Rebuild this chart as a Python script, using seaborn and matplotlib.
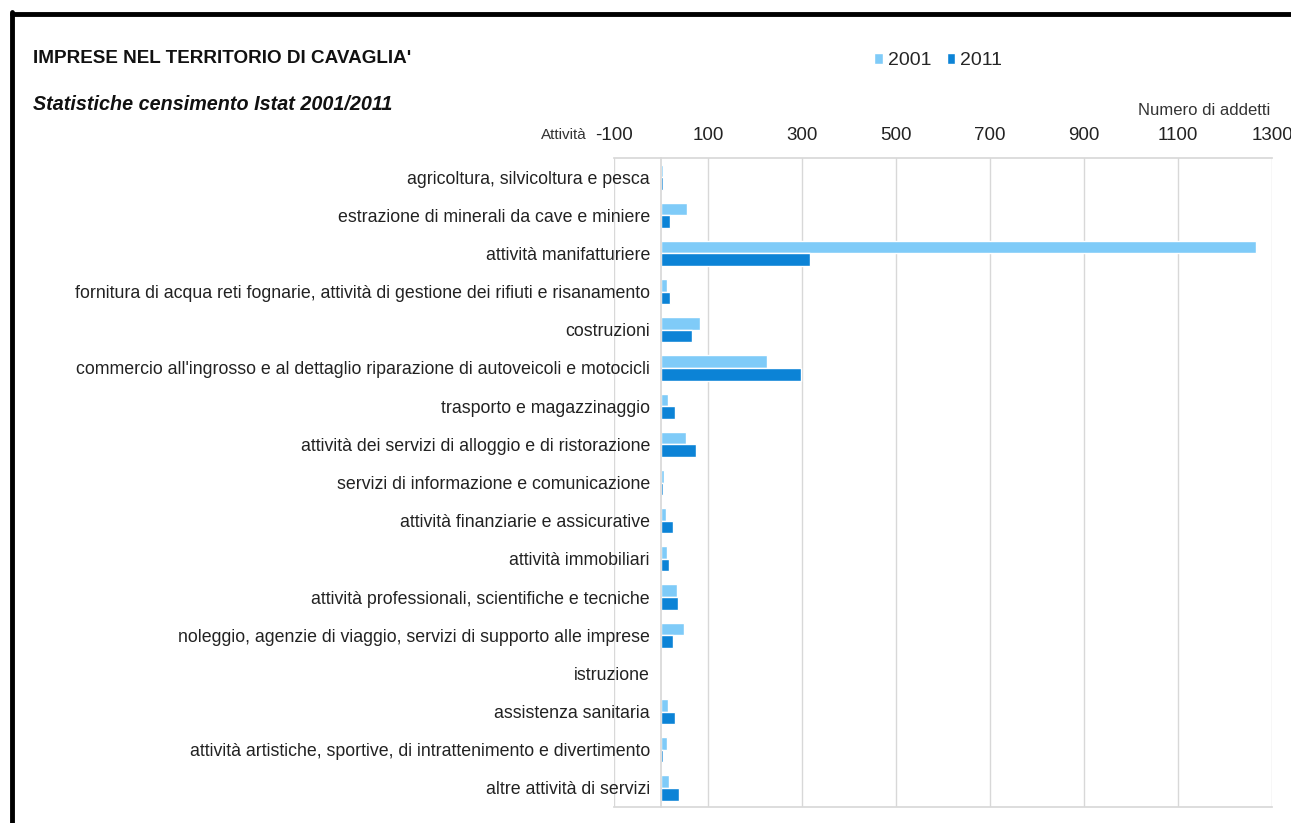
import matplotlib
matplotlib.use("Agg")
import matplotlib.pyplot as plt
from matplotlib.lines import Line2D
from matplotlib.patches import Patch
import numpy as np
import pandas as pd
import seaborn as sns

# Settori di attività economica (censimento Istat)
categorie = [
    "agricoltura, silvicoltura e pesca",
    "estrazione di minerali da cave e miniere",
    "attività manifatturiere",
    "fornitura di acqua reti fognarie, attività di gestione dei rifiuti e risanamento",
    "costruzioni",
    "commercio all'ingrosso e al dettaglio riparazione di autoveicoli e motocicli",
    "trasporto e magazzinaggio",
    "attività dei servizi di alloggio e di ristorazione",
    "servizi di informazione e comunicazione",
    "attività finanziarie e assicurative",
    "attività immobiliari",
    "attività professionali, scientifiche e tecniche",
    "noleggio, agenzie di viaggio, servizi di supporto alle imprese",
    "istruzione",
    "assistenza sanitaria",
    "attività artistiche, sportive, di intrattenimento e divertimento",
    "altre attività di servizi",
]
addetti_2001 = [5, 55, 1266, 13, 84, 225, 14, 54, 7, 10, 13, 33, 48, 1, 14, 13, 18]
addetti_2011 = [4, 20, 316, 20, 65, 297, 29, 75, 5, 26, 18, 36, 26, 1, 30, 4, 38]
anni = ["2001", "2011"]
tick_x = [-100, 100, 300, 500, 700, 900, 1100, 1300]

colore_2001 = "#7FCBF8"
colore_2011 = "#0C83D6"

df = pd.DataFrame({
    "attivita": categorie * 2,
    "anno": [anni[0]] * len(categorie) + [anni[1]] * len(categorie),
    "addetti": addetti_2001 + addetti_2011,
})

sns.set_theme(style="white")
plt.rcParams["font.family"] = ["Liberation Sans", "DejaVu Sans"]

fig = plt.figure(figsize=(12.91, 8.23), dpi=100)
ax = fig.add_axes([0.4756, 0.0194, 0.5097, 0.7886])

sns.barplot(
    data=df, y="attivita", x="addetti", hue="anno", order=categorie,
    hue_order=anni, palette=[colore_2001, colore_2011], orient="h",
    width=0.66, saturation=1, ax=ax, legend=False,
)

ax.set_xlim(-100, 1300)
ax.set_ylim(len(categorie) - 0.5, -0.5)
ax.set_xlabel("")
ax.set_ylabel("")

# asse dei valori in alto, griglia verticale
ax.xaxis.tick_top()
ax.set_xticks(tick_x)
ax.set_xticklabels([str(v) for v in tick_x], fontsize=13.5, color="#222222")
ax.tick_params(axis="x", length=0, pad=10)
ax.grid(axis="x", color="#d8d8d8", linewidth=1)
ax.set_axisbelow(True)

# asse delle categorie posto sullo zero
ax.spines["left"].set_position(("data", 0))
ax.spines["left"].set_color("#d8d8d8")
ax.spines["right"].set_visible(False)
for s in ("top", "bottom"):
    ax.spines[s].set_color("#d8d8d8")
ax.tick_params(axis="y", which="major", length=0, pad=8, labelsize=12.8, labelcolor="#222222")
ax.set_yticks(np.arange(-0.5, len(categorie), 1.0), minor=True)
ax.tick_params(axis="y", which="minor", length=6, color="#e8c9b0", width=1)

# titoli
fig.text(0.0256, 0.929, "IMPRESE NEL TERRITORIO DI CAVAGLIA'", fontsize=13.6,
         fontweight="bold", va="center", ha="left", color="#111111")
fig.text(0.0256, 0.873, "Statistiche censimento Istat 2001/2011", fontsize=14.2,
         fontweight="bold", fontstyle="italic", va="center", ha="left", color="#111111")
fig.text(1270 / 1291, 0.866, "Numero di addetti", fontsize=12,
         va="center", ha="right", color="#333333")
fig.text(587 / 1291, 0.836, "Attività", fontsize=11,
         va="center", ha="right", color="#333333")

# legenda
handles = [Patch(facecolor=colore_2001, label=anni[0]),
           Patch(facecolor=colore_2011, label=anni[1])]
fig.legend(handles=handles, loc="center", bbox_to_anchor=(0.7266, 0.926),
           ncol=2, frameon=False, fontsize=14, handlelength=0.45, handleheight=0.45,
           handletextpad=0.25, columnspacing=0.8)

# cornice nera a sinistra e in alto
fig.add_artist(Line2D([0.0093, 0.0093], [0, 0.985], color="black", linewidth=3.5,
                      transform=fig.transFigure))
fig.add_artist(Line2D([0.0093, 1.0], [0.9832, 0.9832], color="black", linewidth=3.5,
                      transform=fig.transFigure))

fig.savefig("out.png", dpi=100, facecolor="white")
